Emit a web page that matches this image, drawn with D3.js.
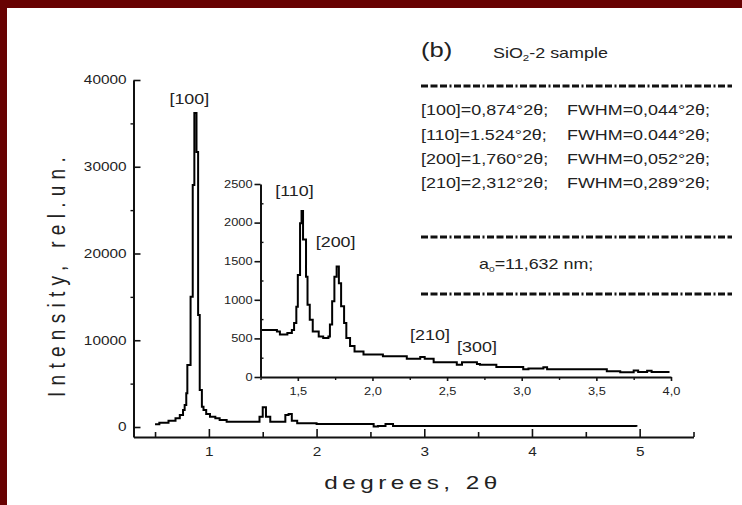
<!DOCTYPE html>
<html>
<head>
<meta charset="utf-8">
<script src="https://cdn.jsdelivr.net/npm/d3@7"></script>
<style>
  html, body { margin: 0; padding: 0; background: #fff; }
  svg { display: block; }
  text { font-family: "Liberation Sans", Arial, sans-serif; fill: #222; }
</style>
</head>
<body>
<svg id="chart" width="742" height="505"></svg>
<script>
// ---- SAXS pattern of the SiO2-2 sample: full range ----
const mainTheta = [0.50, 0.54, 0.625, 0.69, 0.73, 0.76, 0.775, 0.79, 0.80, 0.83, 0.85, 0.865, 0.885, 0.90, 0.915, 0.935, 0.95, 0.975, 1.01, 1.06, 1.10, 1.165, 1.47, 1.50, 1.53, 1.57, 1.71, 1.74, 1.77, 1.82, 2.00, 2.53, 2.57, 2.64, 2.71, 4.97];
const mainIntensity = [310, 500, 730, 1000, 1380, 1960, 2540, 3880, 7150, 15000, 27900, 36200, 31700, 12900, 4260, 2340, 1960, 1500, 1190, 1000, 810, 610, 1190, 2270, 1190, 610, 1380, 1500, 730, 430, 350, 60, 120, 350, 110, 40];

// ---- enlarged region of the higher-order reflections ----
const insetTheta = [1.26, 1.36, 1.38, 1.43, 1.46, 1.475, 1.49, 1.50, 1.515, 1.525, 1.535, 1.555, 1.565, 1.58, 1.60, 1.64, 1.67, 1.705, 1.715, 1.73, 1.745, 1.76, 1.775, 1.79, 1.81, 1.825, 1.85, 1.88, 1.94, 2.07, 2.23, 2.32, 2.35, 2.41, 2.565, 2.60, 2.70, 2.72, 2.83, 3.01, 3.045, 3.145, 3.17, 3.57, 3.66, 3.75, 3.78, 3.84, 3.87, 3.99];
const insetIntensity = [610, 590, 550, 570, 610, 700, 910, 1320, 1990, 2150, 1780, 1300, 935, 740, 590, 525, 505, 525, 680, 980, 1300, 1430, 1215, 915, 700, 505, 400, 330, 290, 270, 235, 260, 235, 190, 160, 190, 170, 160, 130, 100, 110, 125, 100, 75, 60, 85, 65, 80, 65, 65];

// ---- tick values ----
const mainXTicks = [1, 2, 3, 4, 5];
const mainXMinor = [0.5, 1.5, 2.5, 3.5, 4.5, 5.5];
const mainYTicks = [0, 10000, 20000, 30000, 40000];
const mainYMinor = [5000, 15000, 25000, 35000];
const insetXTicks = [1.5, 2.0, 2.5, 3.0, 3.5, 4.0];
const insetXMinor = [1.25, 1.75, 2.25, 2.75, 3.25, 3.75];
const insetYTicks = [0, 500, 1000, 1500, 2000, 2500];
const insetYMinor = [250, 750, 1250, 1750, 2250];

// ---- peak annotations ----
const peakNames = ["[100]", "[110]", "[200]", "[210]", "[300]"];
const peakAt = [0.874, 1.524, 1.760, 2.312, 2.64];

// ---- fitted reflection table ----
const tableHkl = ["[100]", "[110]", "[200]", "[210]"];
const tablePos = ["0,874", "1.524", "1,760", "2,312"];
const tableFwhm = ["0,044", "0.044", "0,052", "0,289"];
const latticeParam = "11,632";

const SX = 1.28; // horizontal glyph stretch used throughout
const svg = d3.select("#chart");

// dark red frame along the top and left edges
svg.append("rect").attr("x", 0).attr("y", 0).attr("width", 742).attr("height", 505).attr("fill", "#fff");
svg.append("rect").attr("x", 0).attr("y", 0).attr("width", 742).attr("height", 8).attr("fill", "#680202");
svg.append("rect").attr("x", 0).attr("y", 0).attr("width", 7).attr("height", 505).attr("fill", "#680202");

// stretched text helper
function label(parent, x, y, str, size, anchor) {
  return parent.append("text")
    .attr("transform", `translate(${x},${y}) scale(${SX},1)`)
    .attr("text-anchor", anchor || "start")
    .attr("font-size", size)
    .text(str);
}

function styleAxis(g, fontSize, padLeft) {
  g.attr("font-family", null).attr("font-size", null);
  g.select(".domain").attr("stroke", "#111").attr("stroke-width", 2);
  g.selectAll(".tick line").attr("stroke", "#111").attr("stroke-width", 1.6);
  g.selectAll(".tick text")
    .attr("font-size", fontSize)
    .attr("fill", "#333")
    .attr("transform", `scale(${SX},1)`);
  if (padLeft !== undefined) g.selectAll(".tick text").attr("x", -padLeft / SX);
}

// ================= main plot =================
const x = d3.scaleLinear().domain([0.3, 5.5]).range([133.5, 693.5]);
const y = d3.scaleLinear().domain([-1153, 40000]).range([437, 80]);

const gMain = svg.append("g");

const gx = gMain.append("g").attr("transform", `translate(0,${y.range()[0]})`)
  .call(d3.axisBottom(x).tickValues(mainXTicks).tickSizeInner(-8).tickSizeOuter(0).tickPadding(10).tickFormat(d3.format("d")));
styleAxis(gx, 12);
const gxm = gMain.append("g").attr("transform", `translate(0,${y.range()[0]})`)
  .call(d3.axisBottom(x).tickValues(mainXMinor).tickSizeInner(-5).tickSizeOuter(0).tickFormat(""));
gxm.select(".domain").remove();
gxm.selectAll(".tick line").attr("stroke", "#111").attr("stroke-width", 1.6);

const gy = gMain.append("g").attr("transform", `translate(${x.range()[0]},0)`)
  .call(d3.axisLeft(y).tickValues(mainYTicks).tickSizeInner(-7).tickSizeOuter(0).tickFormat(d3.format("d")));
styleAxis(gy, 12, 7);
const gym = gMain.append("g").attr("transform", `translate(${x.range()[0]},0)`)
  .call(d3.axisLeft(y).tickValues(mainYMinor).tickSizeInner(3).tickSizeOuter(0).tickFormat(""));
gym.select(".domain").remove();
gym.selectAll(".tick line").attr("stroke", "#111").attr("stroke-width", 1.4);

const mainLine = d3.line().x((d, i) => x(mainTheta[i])).y((d, i) => y(mainIntensity[i])).curve(d3.curveStepAfter);
gMain.append("path").datum(mainIntensity).attr("d", mainLine)
  .attr("fill", "none").attr("stroke", "#000").attr("stroke-width", 2).attr("stroke-linejoin", "miter");

label(gMain, x(peakAt[0]) - 6, y(36200) - 9, peakNames[0], 14, "middle");

// axis titles
svg.append("text")
  .attr("transform", `translate(413,489) scale(${SX},1)`)
  .attr("text-anchor", "middle").attr("font-size", 19).attr("letter-spacing", 3.5)
  .text("degrees, 2θ");
svg.append("text")
  .attr("transform", `translate(65,274) rotate(-90) scale(1,${SX})`)
  .attr("text-anchor", "middle").attr("font-size", 19).attr("letter-spacing", 6.3)
  .text("Intensity, rel.un.");

// ================= inset =================
const xi = d3.scaleLinear().domain([1.25, 4.0]).range([260.5, 671]);
const yi = d3.scaleLinear().domain([0, 2500]).range([377, 184]);
const gIn = svg.append("g");

const commaFmt = d => d3.format(".1f")(d).replace(".", ",");
const gxi = gIn.append("g").attr("transform", `translate(0,${yi.range()[0]})`)
  .call(d3.axisBottom(xi).tickValues(insetXTicks).tickSizeInner(4).tickSizeOuter(0).tickPadding(7).tickFormat(commaFmt));
styleAxis(gxi, 10);
const gxim = gIn.append("g").attr("transform", `translate(0,${yi.range()[0]})`)
  .call(d3.axisBottom(xi).tickValues(insetXMinor).tickSizeInner(3).tickSizeOuter(0).tickFormat(""));
gxim.select(".domain").remove();
gxim.selectAll(".tick line").attr("stroke", "#111").attr("stroke-width", 1.4);

const gyi = gIn.append("g").attr("transform", `translate(${xi.range()[0]},0)`)
  .call(d3.axisLeft(yi).tickValues(insetYTicks).tickSizeInner(6).tickSizeOuter(0).tickPadding(2).tickFormat(d3.format("d")));
styleAxis(gyi, 10, 8);
const gyim = gIn.append("g").attr("transform", `translate(${xi.range()[0]},0)`)
  .call(d3.axisLeft(yi).tickValues(insetYMinor).tickSizeInner(-3).tickSizeOuter(0).tickFormat(""));
gyim.select(".domain").remove();
gyim.selectAll(".tick line").attr("stroke", "#111").attr("stroke-width", 1.4);

const insetLine = d3.line().x((d, i) => xi(insetTheta[i])).y((d, i) => yi(insetIntensity[i])).curve(d3.curveStepAfter);
gIn.append("path").datum(insetIntensity).attr("d", insetLine)
  .attr("fill", "none").attr("stroke", "#000").attr("stroke-width", 2);

label(gIn, xi(peakAt[1]) - 7, 196, peakNames[1], 14, "middle");
label(gIn, xi(peakAt[2]) - 1, 247, peakNames[2], 14, "middle");
label(gIn, xi(peakAt[3]) + 11, 340, peakNames[3], 14, "middle");
label(gIn, xi(peakAt[4]) + 9, 352, peakNames[4], 14, "middle");

// ================= reflection table =================
const gT = svg.append("g");
gT.append("text").attr("transform", `translate(421,57) scale(${SX},1)`).attr("font-size", 20).text("(b)");
const title = gT.append("text").attr("transform", `translate(493,58) scale(${SX},1)`).attr("font-size", 14);
title.append("tspan").text("SiO");
title.append("tspan").attr("font-size", 9).attr("dy", 3).text("2");
title.append("tspan").attr("dy", -3).text("-2 sample");

const sepY = [86, 237, 294];
gT.selectAll("line.sep").data(sepY).join("line").attr("class", "sep")
  .attr("x1", 421).attr("x2", 732).attr("y1", d => d).attr("y2", d => d)
  .attr("stroke", "#111").attr("stroke-width", 3)
  .attr("stroke-dasharray", "7,2.5,7,2.5,7,2.5,2,2.5");

const rowY = [115, 140, 164, 188];
tableHkl.forEach((h, i) => {
  label(gT, 421, rowY[i], `${h}=${tablePos[i]}°2θ;`, 14);
  label(gT, 567, rowY[i], `FWHM=${tableFwhm[i]}°2θ;`, 14);
});

const lat = gT.append("text").attr("transform", `translate(479,269) scale(${SX},1)`).attr("font-size", 14);
lat.append("tspan").text("a");
lat.append("tspan").attr("font-size", 8).attr("dy", 3).text("0");
lat.append("tspan").attr("dy", -3).text(`=${latticeParam} nm;`);
</script>
</body>
</html>
